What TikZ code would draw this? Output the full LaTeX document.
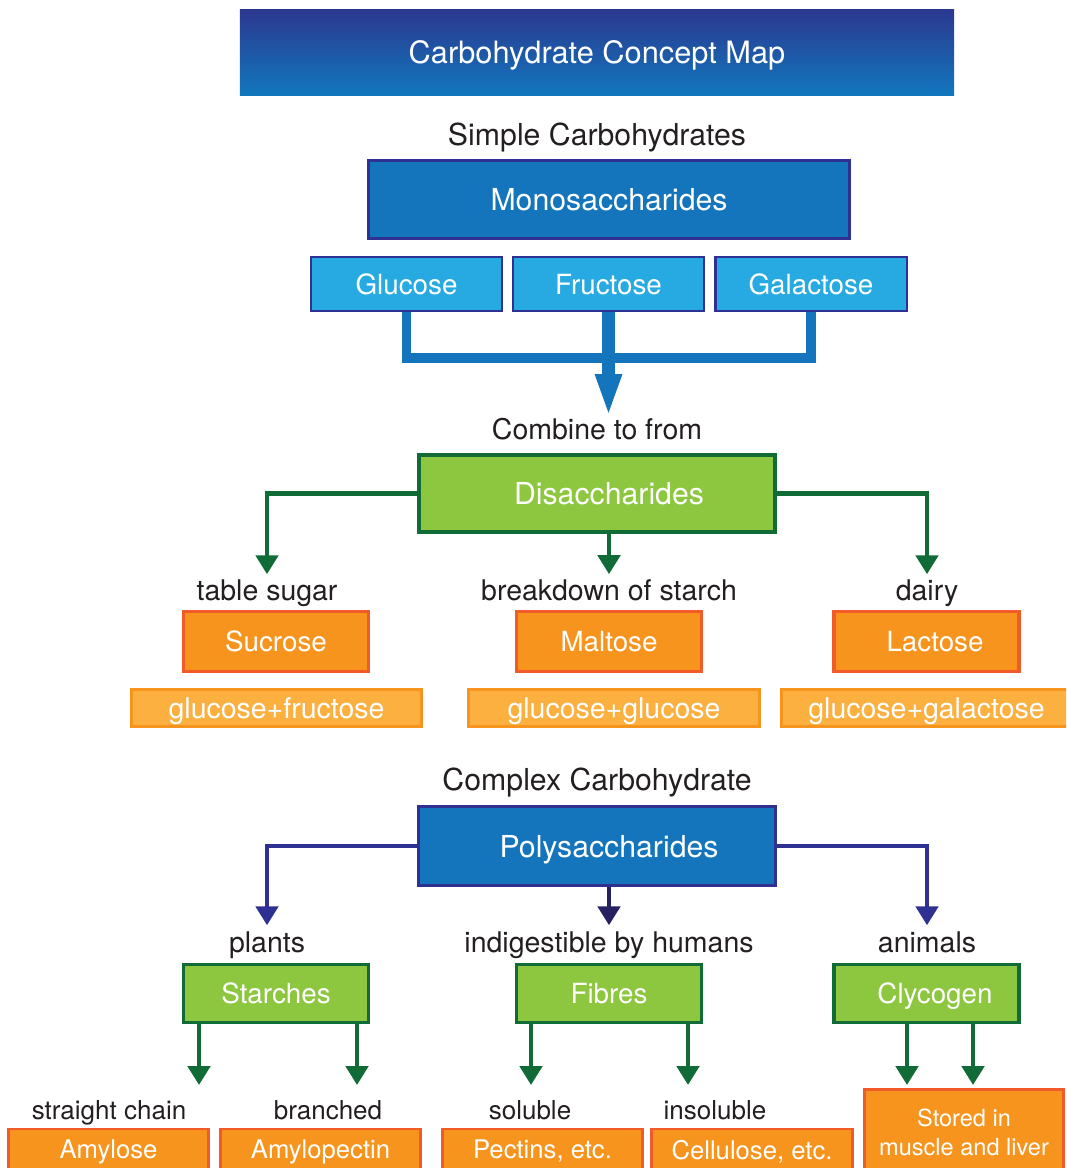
\documentclass[tikz,border=0pt]{standalone}
\usepackage{fontspec}
\setmainfont{TeX Gyre Heros}
\usetikzlibrary{arrows.meta, positioning}

\definecolor{navy}{HTML}{2E3192}
\definecolor{darknavy}{HTML}{262262}
\definecolor{midblue}{HTML}{1475BC}
\definecolor{skyblue}{HTML}{27AAE1}
\definecolor{titletop}{HTML}{2B388F}
\definecolor{titlebot}{HTML}{1277BE}
\definecolor{leaf}{HTML}{8DC63F}
\definecolor{forest}{HTML}{106B37}
\definecolor{amber}{HTML}{F7941D}
\definecolor{rust}{HTML}{F15A29}
\definecolor{peach}{HTML}{FBB040}
\definecolor{ink}{HTML}{231F20}

\begin{document}
\begin{tikzpicture}[x=0.01cm, y=-0.01cm,
    box/.style={rectangle, inner sep=0pt, text=white},
    bluebox/.style={box, text depth=0pt, fill=midblue, draw=navy, line width=0.85pt, font=\fontsize{8.6}{10}\selectfont},
    monobox/.style={box, text depth=0pt, fill=skyblue, draw=navy, line width=0.6pt, minimum width=1.91cm, minimum height=0.54cm, font=\fontsize{7.9}{9}\selectfont},
    greenbox/.style={box, text depth=0pt, fill=leaf, draw=forest, line width=1pt},
    starbox/.style={greenbox, minimum width=1.845cm, minimum height=0.58cm, font=\fontsize{7.9}{9}\selectfont},
    sugarbox/.style={box, text depth=0pt, fill=amber, draw=rust, line width=1pt, minimum width=1.845cm, minimum height=0.595cm, font=\fontsize{7.9}{9}\selectfont},
    mixbox/.style={box, text depth=0pt, fill=peach, draw=amber, line width=0.85pt, minimum width=2.9cm, minimum height=0.37cm, font=\fontsize{8.1}{9}\selectfont},
    endbox/.style={box, text depth=0pt, fill=amber, draw=rust, line width=0.85pt, minimum width=2cm, minimum height=0.41cm, font=\fontsize{7.3}{9}\selectfont},
    storebox/.style={box, fill=amber, draw=rust, line width=0.85pt, align=center, minimum width=1.99cm, minimum height=0.85cm, font=\fontsize{6.7}{8.25}\selectfont},
    lbl/.style={anchor=base, inner sep=1.5pt, text=ink, font=\fontsize{8.1}{10}\selectfont},
    sublbl/.style={lbl, font=\fontsize{7.4}{9}\selectfont},
    head/.style={lbl, font=\fontsize{8.6}{10}\selectfont},
    txtshift/.style={execute at begin node={\hspace*{#1}}},
    fatlink/.style={draw=midblue, line width=2.6pt},
    fatarrow/.style={draw=midblue, line width=3.5pt, -{Triangle[width=6.8pt, length=12.2pt]}},
    garrow/.style={draw=forest, line width=1.3pt, -{Triangle[width=6.3pt, length=5.4pt]}},
    barrow/.style={draw=navy, line width=1.3pt, -{Triangle[width=6.3pt, length=5.4pt]}}]
\useasboundingbox (0,0) rectangle (1066,1168);
\clip (0,0) rectangle (1066,1168);

\node[box, minimum width=7.14cm, minimum height=0.85cm, top color=titletop, bottom color=titlebot, text depth=0pt, font=\fontsize{8.75}{10}\selectfont] (title) at (597,52.5) {Carbohydrate Concept Map};

\node[head] (simple) at (597,146) {Simple Carbohydrates};
\node[bluebox, minimum width=4.81cm, minimum height=0.78cm] (mono) at (609,199.5) {Monosaccharides};
\node[monobox] (glu) at (406.5,284) {Glucose};
\node[monobox] (fru) at (608.5,284) {Fructose};
\node[monobox] (gal) at (811,284) {Galactose};

\node[lbl] (comb) at (597,440) {Combine to from};
\node[greenbox, minimum width=3.56cm, minimum height=0.77cm, line width=1.1pt, font=\fontsize{8.6}{10}\selectfont, txtshift=0.24cm] (di) at (597,493.5) {Disaccharides};

\coordinate (jn) at (608.5,358);
\draw[fatlink] (glu.south) |- (jn) -| (gal.south);
\draw[fatarrow, shorten >=-1.2pt] (fru.south) -- (fru.south |- comb.north);

\node[lbl] (lsug) at (267,601) {table sugar};
\node[lbl] (lbrk) at (609,601) {breakdown of starch};
\node[lbl] (ldai) at (927,601) {dairy};
\draw[garrow] (di.west) -| (lsug.north);
\draw[garrow] (lbrk.north |- di.south) -- (lbrk.north);
\draw[garrow] (di.east) -| (ldai.north);

\node[sugarbox] (suc) at (276,641.5) {Sucrose};
\node[sugarbox] (mal) at (609,641.5) {Maltose};
\node[sugarbox, txtshift=0.17cm] (lac) at (926.5,641.5) {Lactose};
\node[mixbox] (mix1) at (276.5,708) {glucose+fructose};
\node[mixbox] (mix2) at (614,708) {glucose+glucose};
\node[mixbox] (mix3) at (926.5,708) {glucose+galactose};

\node[head] (complex) at (597,790) {Complex Carbohydrate};
\node[bluebox, minimum width=3.57cm, minimum height=0.79cm, txtshift=0.24cm] (poly) at (597,846) {Polysaccharides};

\node[lbl] (lpla) at (267,952) {plants};
\node[lbl] (lind) at (609,952) {indigestible by humans};
\node[lbl] (lani) at (927,952) {animals};
\draw[barrow] (poly.west) -| (lpla.north);
\draw[barrow, draw=darknavy] (lind.north |- poly.south) -- (lind.north);
\draw[barrow] (poly.east) -| (lani.north);

\node[starbox] (sta) at (276,993.5) {Starches};
\node[starbox] (fib) at (609,993.5) {Fibres};
\node[starbox, txtshift=0.17cm] (gly) at (926.5,993.5) {Clycogen};

\coordinate (s1) at (199,1085);
\coordinate (s2) at (357,1085);
\coordinate (s3) at (531,1085);
\coordinate (s4) at (688,1085);
\coordinate (s5) at (907,1085);
\coordinate (s6) at (973,1085);
\draw[garrow] (s1 |- sta.south) -- (s1);
\draw[garrow] (s2 |- sta.south) -- (s2);
\draw[garrow] (s3 |- fib.south) -- (s3);
\draw[garrow] (s4 |- fib.south) -- (s4);
\draw[garrow] (s5 |- gly.south) -- (s5);
\draw[garrow] (s6 |- gly.south) -- (s6);

\node[sublbl] (lstr) at (109,1119) {straight chain};
\node[sublbl] (lbra) at (328,1119) {branched};
\node[sublbl] (lsol) at (530,1119) {soluble};
\node[sublbl] (lins) at (715,1119) {insoluble};

\node[endbox] (amy) at (108.5,1149.5) {Amylose};
\node[endbox] (amp) at (320.5,1149.5) {Amylopectin};
\node[endbox] (pec) at (542.5,1149.5) {Pectins, etc.};
\node[endbox] (cel) at (752,1149.5) {Cellulose, etc.};
\node[storebox] (sto) at (964,1132) {Stored in\\muscle and liver};
\end{tikzpicture}
\end{document}
